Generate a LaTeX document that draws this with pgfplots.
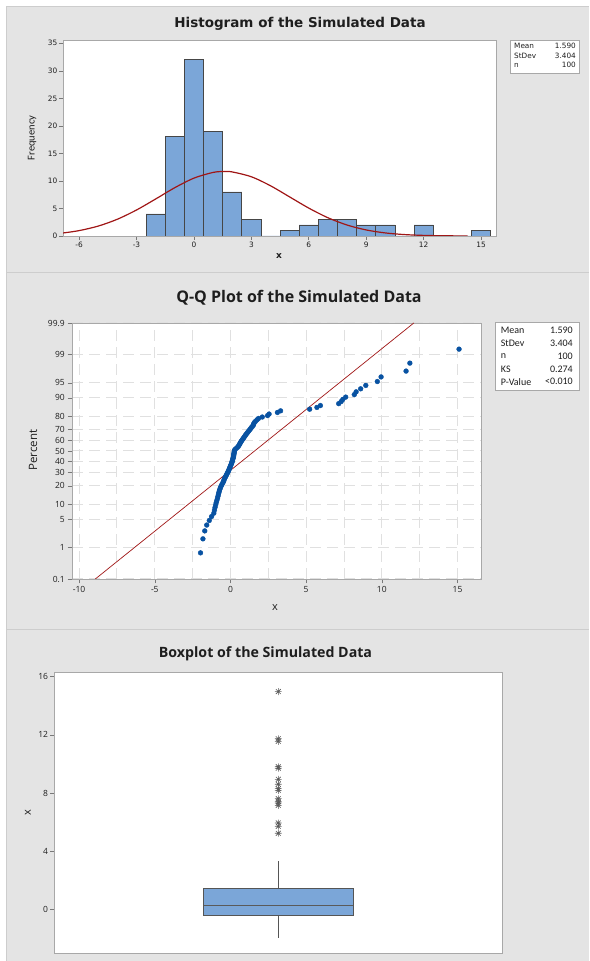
\documentclass[border=0pt]{standalone}
\usepackage{pgfplots}
\pgfplotsset{compat=1.18}
\usepgfplotslibrary{statistics}
\usepackage{fontspec}
\setmainfont{Open Sans}
\newfontfamily\dejavu{DejaVu Sans}
\newfontfamily\carlito{Carlito}

\definecolor{panelgray}{RGB}{228,228,228}
\definecolor{sepgray}{RGB}{205,205,205}
\definecolor{axisborder}{RGB}{168,168,168}
\definecolor{tickgray}{RGB}{120,120,120}
\definecolor{histblue}{RGB}{123,166,216}
\definecolor{baredge}{RGB}{70,70,70}
\definecolor{curvered}{RGB}{160,22,22}
\definecolor{qqblue}{RGB}{8,82,162}
\definecolor{gridgray}{RGB}{224,224,224}
\definecolor{textdark}{RGB}{30,30,30}
\definecolor{boxedge}{RGB}{85,85,85}
\definecolor{medgray}{RGB}{90,90,90}
\definecolor{stargray}{RGB}{90,90,90}

\pgfdeclareplotmark{mstar}{%
  \pgfpathmoveto{\pgfqpoint{-\pgfplotmarksize}{0pt}}\pgfpathlineto{\pgfqpoint{\pgfplotmarksize}{0pt}}%
  \pgfpathmoveto{\pgfqpoint{0pt}{-\pgfplotmarksize}}\pgfpathlineto{\pgfqpoint{0pt}{\pgfplotmarksize}}%
  \pgfpathmoveto{\pgfqpoint{-.707\pgfplotmarksize}{-.707\pgfplotmarksize}}\pgfpathlineto{\pgfqpoint{.707\pgfplotmarksize}{.707\pgfplotmarksize}}%
  \pgfpathmoveto{\pgfqpoint{-.707\pgfplotmarksize}{.707\pgfplotmarksize}}\pgfpathlineto{\pgfqpoint{.707\pgfplotmarksize}{-.707\pgfplotmarksize}}%
  \pgfusepathqstroke}

\pgfplotsset{
  mystyle/.style={
    scale only axis, anchor=south west,
    axis line style={draw=axisborder, line width=0.9pt},
    tick style={draw=tickgray, line width=0.6pt},
    major tick length=4pt, minor tick length=0pt,
    tick align=outside, tick pos=left,
    /pgf/number format/assume math mode=true,
    axis background/.style={fill=white},
  }
}

\begin{document}
\begin{tikzpicture}[x=1pt,y=1pt]
% panels
\fill[white] (0,0) rectangle (589,961);
\fill[panelgray] (6,0) rectangle (589,954);
\draw[sepgray, line width=1pt] (6,0) -- (6,954) -- (589,954);
\draw[sepgray, line width=1.2pt] (6,688.5) -- (589,688.5);
\draw[sepgray, line width=1.2pt] (6,331.5) -- (589,331.5);

% ---------------- Histogram ----------------
\begin{axis}[mystyle,
  at={(63pt,725pt)}, width=433pt, height=196pt,
  xmin=-6.84, xmax=15.78, ymin=0, ymax=35.6,
  xtick={-6,-3,...,15}, ytick={0,5,...,35},
  ticklabel style={font=\dejavu\fontsize{7.4}{8}\selectfont, text=textdark},
  yticklabel style={inner sep=1.5pt},
  xticklabel style={inner sep=2pt},
]
\addplot[ybar interval, fill=histblue, draw=baredge, line width=0.8pt] coordinates {
(-2.5,4) (-1.5,18) (-0.5,32) (0.5,19) (1.5,8) (2.5,3) (3.5,0) (4.5,1) (5.5,2)
(6.5,3) (7.5,3) (8.5,2) (9.5,2) (10.5,0) (11.5,2) (12.5,0) (13.5,0) (14.5,1) (15.5,0)};
\addplot[curvered, line width=1.2pt, smooth] coordinates {
(-6.84,0.546) (-6,0.976) (-5,1.799) (-4,3.044) (-3,4.722) (-2,6.720) (-1,8.775)
(0,10.508) (1,11.545) (1.59,11.72) (2,11.635) (3,10.757) (4,9.122) (5,7.095)
(6,5.064) (7,3.314) (8,1.990) (9,1.096) (10,0.554) (11,0.257) (12,0.109)
(13,0.0425) (14,0.0152) (14.3,0.011)};
\end{axis}
\node[font=\dejavu\bfseries\fontsize{13.5}{15}\selectfont, text=textdark] at (300,937) {Histogram of the Simulated Data};
\node[font=\carlito\fontsize{10.5}{12}\selectfont, text=textdark, rotate=90] at (32,823) {Frequency};
\node[font=\dejavu\bfseries\fontsize{9}{10}\selectfont, text=textdark] at (279,705) {x};
\draw[axisborder, fill=white, line width=0.8pt] (510,888) rectangle (579,921);
\begin{scope}[font=\dejavu\fontsize{7.3}{8}\selectfont, text=textdark]
\node[anchor=west, inner sep=0] at (514,915) {Mean};
\node[anchor=east, inner sep=0] at (576,915) {1.590};
\node[anchor=west, inner sep=0] at (514,905.5) {StDev};
\node[anchor=east, inner sep=0] at (576,905.5) {3.404};
\node[anchor=west, inner sep=0] at (514,896) {n};
\node[anchor=east, inner sep=0] at (576,896) {100};
\end{scope}

% ---------------- Q-Q plot ----------------
\begin{axis}[mystyle,
  at={(72pt,382pt)}, width=409pt, height=256pt,
  xmin=-10.47, xmax=16.55, ymin=-3.09, ymax=3.09,
  xtick={-10,-5,...,15}, minor xtick={-7.5,-2.5,2.5,7.5,12.5},
  ytick={-3.090,-2.326,-1.645,-1.2816,-0.8416,-0.5244,-0.2533,0,0.2533,0.5244,0.8416,1.2816,1.645,2.326,3.090},
  yticklabels={0.1,1,5,10,20,30,40,50,60,70,80,90,95,99,99.9},
  grid=both,
  major grid style={draw=gridgray, dash pattern=on 11pt off 6pt, line width=1pt},
  minor grid style={draw=gridgray, dash pattern=on 11pt off 6pt, line width=1pt},
  major tick length=4.5pt,
  ticklabel style={font=\fontsize{8.5}{9}\selectfont, text=textdark},
  yticklabel style={inner sep=2.5pt},
  xticklabel style={inner sep=3pt},
]
\addplot[curvered, line width=0.7pt] coordinates {(-8.93,-3.09) (12.11,3.09)};
\addplot[only marks, mark=*, mark size=2.4pt, color=qqblue] coordinates {
(-1.98,-2.459) (-1.82,-2.121) (-1.70,-1.929) (-1.57,-1.788) (-1.40,-1.677)
(-1.25,-1.583) (-1.10,-1.501) (-1.06,-1.428) (-1.02,-1.361) (-0.98,-1.301)
(-0.94,-1.245) (-0.90,-1.193) (-0.86,-1.143) (-0.83,-1.097) (-0.80,-1.052)
(-0.77,-1.009) (-0.74,-0.969) (-0.71,-0.930) (-0.67,-0.892) (-0.63,-0.855)
(-0.58,-0.820) (-0.53,-0.785) (-0.48,-0.752) (-0.44,-0.719) (-0.42,-0.687)
(-0.38,-0.656) (-0.33,-0.625) (-0.29,-0.595) (-0.25,-0.566) (-0.21,-0.536)
(-0.17,-0.508) (-0.13,-0.480) (-0.10,-0.452) (-0.07,-0.424) (-0.04,-0.397)
(-0.01,-0.370) (0.02,-0.344) (0.05,-0.318) (0.08,-0.291) (0.10,-0.265)
(0.12,-0.240) (0.14,-0.214) (0.16,-0.189) (0.18,-0.163) (0.20,-0.138)
(0.21,-0.113) (0.22,-0.088) (0.23,-0.062) (0.24,-0.037) (0.25,-0.012)
(0.26,0.012) (0.30,0.037) (0.38,0.062) (0.46,0.088) (0.52,0.113)
(0.56,0.138) (0.60,0.163) (0.64,0.189) (0.68,0.214) (0.72,0.240)
(0.77,0.265) (0.82,0.291) (0.87,0.318) (0.92,0.344) (0.97,0.370)
(1.02,0.397) (1.08,0.424) (1.14,0.452) (1.20,0.480) (1.26,0.508)
(1.32,0.536) (1.38,0.566) (1.45,0.595) (1.51,0.625) (1.53,0.656)
(1.58,0.687) (1.66,0.719) (1.75,0.752) (1.85,0.785) (2.10,0.820)
(2.45,0.855) (2.55,0.892) (3.10,0.930) (3.31,0.969) (5.23,1.009)
(5.71,1.052) (5.94,1.097) (7.15,1.143) (7.31,1.193) (7.42,1.245)
(7.61,1.301) (8.18,1.361) (8.30,1.428) (8.60,1.501) (8.94,1.583)
(9.70,1.677) (9.95,1.788) (11.60,1.929) (11.85,2.121) (15.10,2.459)};
\end{axis}
\node[font=\bfseries\fontsize{16}{18}\selectfont, text=textdark] at (299,663) {Q-Q Plot of the Simulated Data};
\node[font=\fontsize{11.5}{13}\selectfont, text=textdark, rotate=90] at (33,511) {Percent};
\node[font=\fontsize{11}{13}\selectfont, text=textdark] at (275,353) {x};
\draw[axisborder, fill=white, line width=0.8pt] (495,571) rectangle (579,639);
\begin{scope}[font=\carlito\fontsize{10}{11}\selectfont, text=textdark]
\node[anchor=west, inner sep=0] at (500.7,630.3) {Mean};
\node[anchor=east, inner sep=0] at (573,630.3) {1.590};
\node[anchor=west, inner sep=0] at (500.7,617.6) {StDev};
\node[anchor=east, inner sep=0] at (573,617.6) {3.404};
\node[anchor=west, inner sep=0] at (500.7,604.8) {n};
\node[anchor=east, inner sep=0] at (573,604.8) {100};
\node[anchor=west, inner sep=0] at (500.7,592) {KS};
\node[anchor=east, inner sep=0] at (573,592) {0.274};
\node[anchor=west, inner sep=0] at (500.7,579.3) {P-Value};
\node[anchor=east, inner sep=0] at (573,579.3) {<0.010};
\end{scope}

% ---------------- Boxplot ----------------
\begin{axis}[mystyle,
  at={(54.3pt,7.7pt)}, width=448pt, height=280.6pt,
  xmin=0, xmax=3, ymin=-3.02, ymax=16.27,
  xtick=\empty, ytick={0,4,...,16},
  ticklabel style={font=\fontsize{8.5}{9}\selectfont, text=textdark},
  yticklabel style={inner sep=2pt},
  boxplot/draw direction=y,
]
\addplot[boxplot prepared={draw position=1.5, lower whisker=-1.98, lower quartile=-0.41,
   median=0.25, upper quartile=1.44, upper whisker=3.31, box extend=1, whisker extend=0,
   every box/.style={fill=histblue, draw=boxedge, line width=0.9pt},
   every whisker/.style={draw=boxedge, line width=0.8pt},
   every median/.style={draw=medgray, line width=1.4pt}},
   mark=mstar, mark size=3.4pt, mark options={draw=stargray, line width=0.6pt}]
 coordinates {(0,5.23) (0,5.71) (0,5.94) (0,7.15) (0,7.31) (0,7.42) (0,7.61) (0,8.18)
 (0,8.30) (0,8.60) (0,8.94) (0,9.70) (0,9.81) (0,11.55) (0,11.73) (0,14.97)};
\end{axis}
\node[font=\bfseries\fontsize{14.2}{16}\selectfont, text=textdark] at (265.5,307) {Boxplot of the Simulated Data};
\node[font=\fontsize{11}{13}\selectfont, text=textdark, rotate=90] at (28,148.3) {x};

\pgfresetboundingbox
\useasboundingbox (0,0) rectangle (589,961);
\end{tikzpicture}
\end{document}
